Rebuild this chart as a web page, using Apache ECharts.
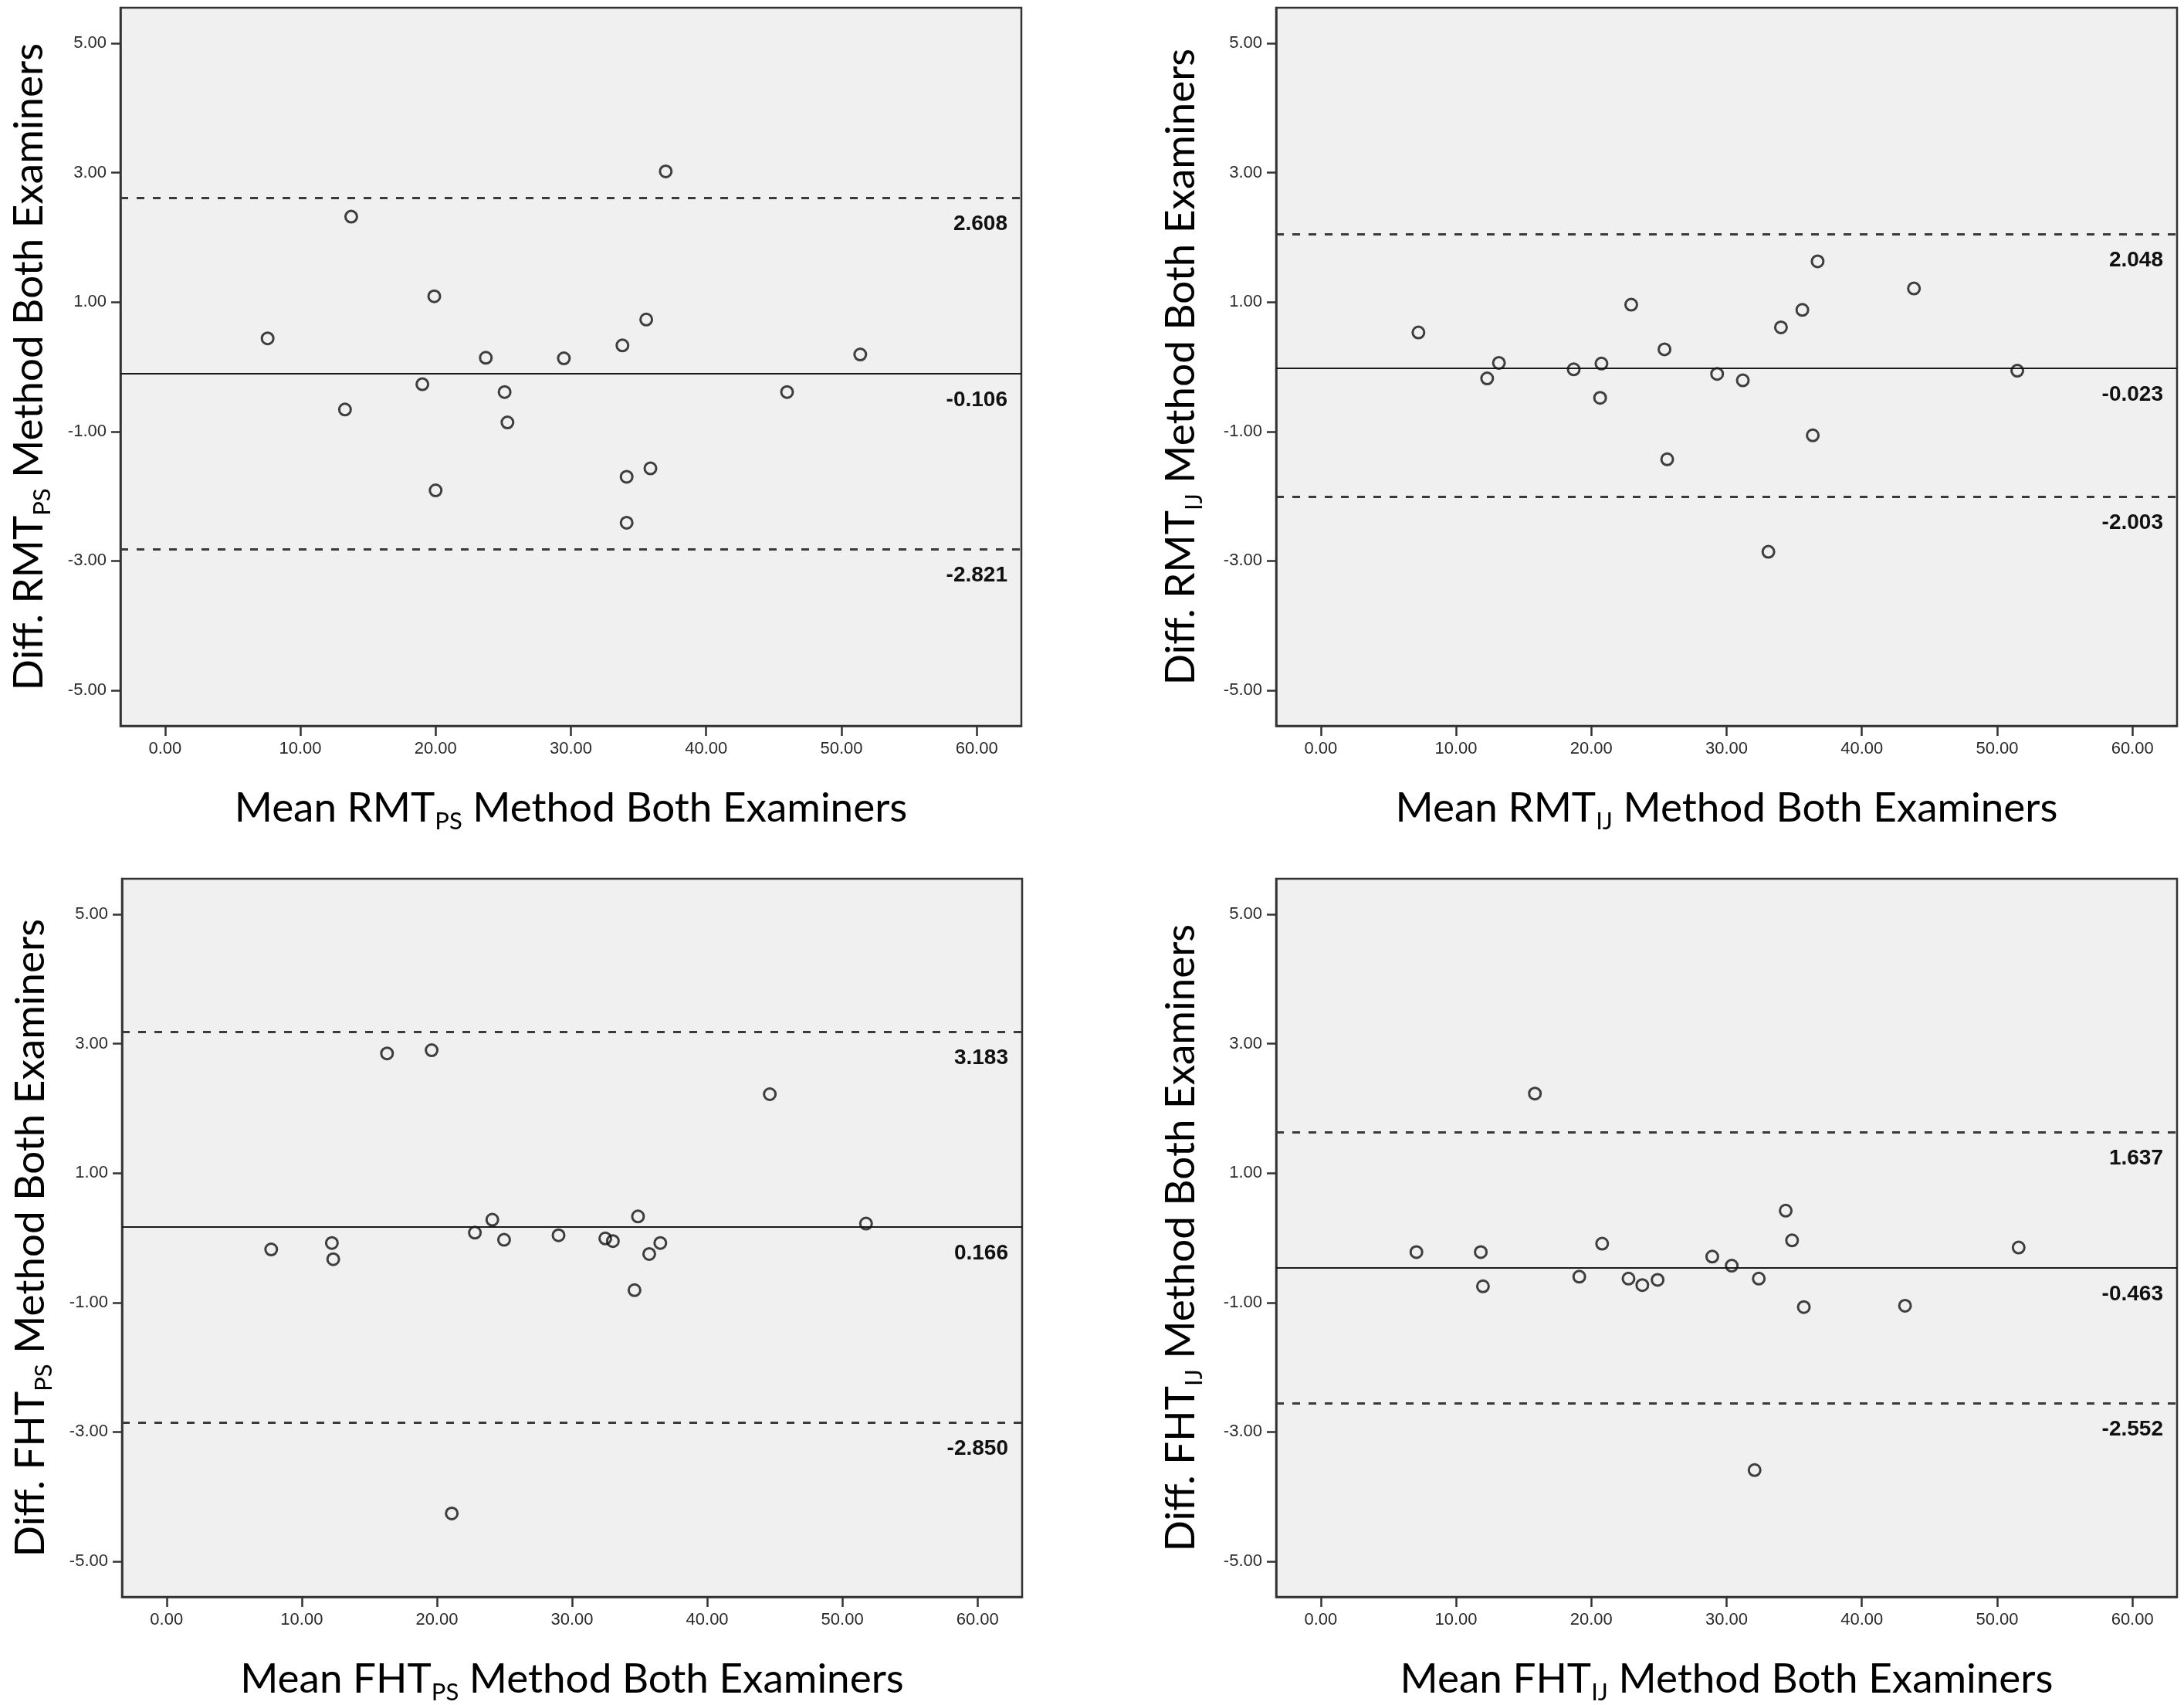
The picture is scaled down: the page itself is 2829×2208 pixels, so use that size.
<!DOCTYPE html>
<html>
<head>
<meta charset="utf-8">
<script src="https://cdn.jsdelivr.net/npm/echarts@6/dist/echarts.min.js"></script>
<style>
html,body{margin:0;padding:0;background:#fff;}
#chart{width:2829px;height:2208px;}
</style>
</head>
<body>
<div id="chart"></div>
<script>
// ---- tick labels ----
const xTicks = [0, 10, 20, 30, 40, 50, 60];
const yTicks = [-5, -3, -1, 1, 3, 5];

// ---- panel 1: RMT PS ----
const rmtPsMean = [7.58, 13.76, 13.30, 19.90, 19.02, 20.00, 23.71, 25.10, 25.31, 29.48, 33.81, 35.57, 37.01, 34.12, 35.88, 34.12, 45.98, 51.39];
const rmtPsDiff = [0.44, 2.32, -0.66, 1.09, -0.27, -1.91, 0.14, -0.39, -0.86, 0.13, 0.33, 0.73, 3.02, -1.70, -1.57, -2.41, -0.39, 0.19];

// ---- panel 2: RMT IJ ----
const rmtIjMean = [7.22, 12.30, 13.17, 18.70, 20.75, 20.65, 22.95, 25.41, 25.61, 29.30, 31.20, 33.09, 34.02, 35.60, 36.73, 36.37, 43.85, 51.49];
const rmtIjDiff = [0.53, -0.18, 0.06, -0.04, 0.05, -0.48, 0.96, 0.27, -1.43, -0.11, -0.21, -2.86, 0.61, 0.88, 1.63, -1.06, 1.21, -0.06];

// ---- panel 3: FHT PS ----
const fhtPsMean = [7.74, 12.23, 12.33, 16.31, 19.61, 21.10, 22.81, 24.10, 24.97, 29.00, 32.46, 33.02, 34.88, 34.62, 35.71, 36.53, 44.63, 51.75];
const fhtPsDiff = [-0.18, -0.08, -0.33, 2.85, 2.90, -4.26, 0.08, 0.28, -0.03, 0.04, -0.01, -0.05, 0.33, -0.81, -0.25, -0.08, 2.22, 0.22];

// ---- panel 4: FHT IJ ----
const fhtIjMean = [7.07, 11.83, 11.99, 15.83, 19.11, 20.80, 22.75, 23.77, 24.90, 28.94, 30.38, 32.38, 32.07, 34.37, 34.84, 35.71, 43.19, 51.59];
const fhtIjDiff = [-0.22, -0.22, -0.75, 2.23, -0.60, -0.09, -0.63, -0.73, -0.65, -0.29, -0.43, -0.63, -3.59, 0.42, -0.04, -1.07, -1.05, -0.15];

// ---- bias and limits of agreement ----
const meanDiff = [-0.106, -0.023, 0.166, -0.463];
const upperLoA = [2.608, 2.048, 3.183, 1.637];
const lowerLoA = [-2.821, -2.003, -2.850, -2.552];

// ---- titles ----
const measureNames = ['RMT', 'RMT', 'FHT', 'FHT'];
const methodSubs = ['PS', 'IJ', 'PS', 'IJ'];

const panelMeans = [rmtPsMean, rmtIjMean, fhtPsMean, fhtIjMean];
const panelDiffs = [rmtPsDiff, rmtIjDiff, fhtPsDiff, fhtIjDiff];

// layout (pixels)
const gridBoxes = [
  {left: 156, top: 10, width: 1167, height: 930},
  {left: 1653, top: 10, width: 1167, height: 930},
  {left: 158, top: 1138, width: 1166, height: 931},
  {left: 1653, top: 1138, width: 1167, height: 931}
];
const yNameGaps = [86, 91, 86, 91];

const titleFont = 'Lato, "Open Sans", sans-serif';
const tickFont = '"Liberation Sans", Arial, sans-serif';

const nameRich = {
  a: {fontSize: 53, fontFamily: titleFont, color: '#000', lineHeight: 64},
  s: {fontSize: 31, fontFamily: titleFont, color: '#000', verticalAlign: 'bottom'}
};

const grid = [], xAxis = [], yAxis = [], series = [];
for (let i = 0; i < 4; i++) {
  grid.push(Object.assign({
    show: true,
    backgroundColor: '#f0f0f0',
    borderColor: '#333',
    borderWidth: 2.5,
    containLabel: false
  }, gridBoxes[i]));

  xAxis.push({
    type: 'value',
    gridIndex: i,
    min: -3.3,
    max: 63.3,
    splitLine: {show: false},
    axisLine: {show: true, onZero: false, lineStyle: {color: '#333', width: 2.5}},
    axisTick: {show: true, customValues: xTicks, length: 13, lineStyle: {color: '#333', width: 2.5}},
    axisLabel: {
      customValues: xTicks,
      formatter: v => v.toFixed(2),
      fontSize: 22, fontFamily: tickFont, color: '#2a2a2a', margin: 19
    },
    name: `{a|Mean ${measureNames[i]}}{s|${methodSubs[i]}}{a| Method Both Examiners}`,
    nameLocation: 'middle',
    nameGap: 75,
    nameTextStyle: {rich: nameRich}
  });

  yAxis.push({
    type: 'value',
    gridIndex: i,
    min: -5.55,
    max: 5.55,
    splitLine: {show: false},
    axisLine: {show: true, onZero: false, lineStyle: {color: '#333', width: 2.5}},
    axisTick: {show: true, customValues: yTicks, length: 12, lineStyle: {color: '#333', width: 2.5}},
    axisLabel: {
      customValues: yTicks,
      formatter: v => v.toFixed(2),
      fontSize: 22, fontFamily: tickFont, color: '#2a2a2a', margin: 18
    },
    name: `{a|Diff. ${measureNames[i]}}{s|${methodSubs[i]}}{a| Method Both Examiners}`,
    nameLocation: 'middle',
    nameGap: yNameGaps[i],
    nameTextStyle: {rich: nameRich}
  });

  const xs = panelMeans[i], ys = panelDiffs[i];
  series.push({
    type: 'scatter',
    xAxisIndex: i,
    yAxisIndex: i,
    data: xs.map((x, j) => [x, ys[j]]),
    symbol: 'circle',
    symbolSize: 15,
    itemStyle: {color: 'rgba(255,255,255,0)', borderColor: '#111', borderWidth: 3},
    emphasis: {disabled: true},
    silent: true,
    z: 5,
    markLine: {
      silent: true,
      symbol: 'none',
      animation: false,
      precision: 3,
      label: {
        show: true,
        position: 'insideEndBottom',
        distance: [18, 20],
        formatter: p => Number(p.value).toFixed(3),
        fontSize: 28,
        fontWeight: 'bold',
        fontFamily: tickFont,
        color: '#111'
      },
      emphasis: {disabled: true},
      data: [
        {yAxis: meanDiff[i], lineStyle: {type: 'solid', color: '#1a1a1a', width: 2.2}},
        {yAxis: upperLoA[i], lineStyle: {type: [10, 11], color: '#3a3a3a', width: 3.2}},
        {yAxis: lowerLoA[i], lineStyle: {type: [10, 11], color: '#3a3a3a', width: 3.2}}
      ]
    }
  });
}

const chart = echarts.init(document.getElementById('chart'), null, {renderer: 'canvas'});
chart.setOption({
  backgroundColor: '#ffffff',
  animation: false,
  grid, xAxis, yAxis, series
});
</script>
</body>
</html>
